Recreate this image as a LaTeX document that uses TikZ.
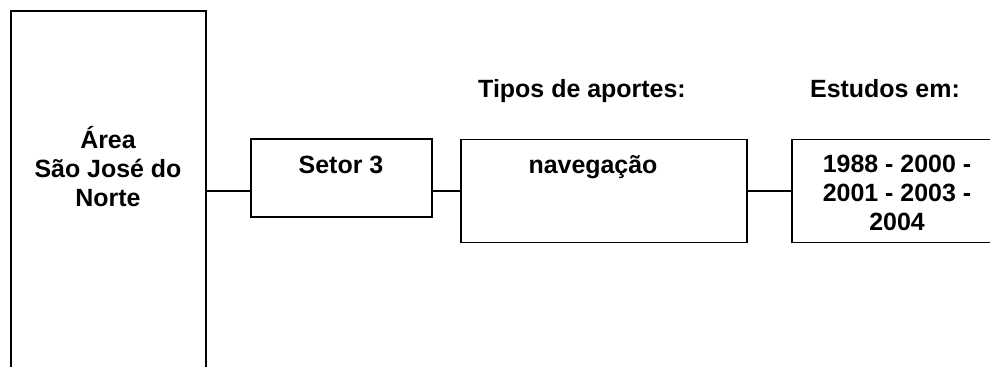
\documentclass[tikz,border=0pt]{standalone}
\usepackage{fontspec}
\setmainfont{Liberation Sans}
\usetikzlibrary{positioning}

\begin{document}
\begin{tikzpicture}[%
  boxStyle/.style={draw,rectangle,line width=0.7pt,inner sep=0pt},%
  textStyle/.style={font=\fontsize{14.2}{16.5}\selectfont\bfseries,align=center,inner sep=0pt},%
  lineStyle/.style={-,line width=0.7pt}
]
%%
%%
\pgfmathsetmacro{\wide}{19.8}
\pgfmathsetmacro{\high}{7.32}
\pgfmathsetmacro{\linky}{-3.82}
\pgfmathsetmacro{\basey}{-3.46}
\pgfmathsetmacro{\heady}{-1.94}
\useasboundingbox (0,0) rectangle (\wide,-\high);
\clip (0,0) rectangle (\wide,-\high);
%%
%% The boxes.
\node[boxStyle,minimum width=3.9cm,minimum height=7.2cm] (area) at (2.17,\linky) {};
\node[boxStyle,minimum width=3.62cm,minimum height=1.56cm] (setor) at (6.83,-3.56) {};
\node[boxStyle,minimum width=5.72cm,minimum height=2.06cm] (aporte) at (12.08,\linky) {};
\node[boxStyle,minimum width=4.2cm,minimum height=2.06cm] (anos) at (17.94,\linky) {};
%%
%% The texts in the boxes.
\node[textStyle] (areaText) at (2.16,-3.34) {Área\\São José do\\Norte};
\node[textStyle,anchor=base] (setorText) at (6.82,\basey) {Setor 3};
\node[textStyle,anchor=base] (aporteText) at (11.86,\basey) {navegação};
\node[textStyle,anchor=north] (anosText) at (17.94,-3.10) {1988 - 2000 -\\2001 - 2003 -\\2004};
%%
%% The headings.
\node[textStyle,anchor=base] (aporteHead) at (11.64,\heady) {Tipos de aportes:};
\node[textStyle,anchor=base] (anosHead) at (17.70,\heady) {Estudos em:};
%%
%% The links.
\draw[lineStyle] (area.east) -- (area.east -| setor.west);
\draw[lineStyle] (setor.east |- aporte.west) -- (aporte.west);
\draw[lineStyle] (aporte.east) -- (anos.west);
\end{tikzpicture}
\end{document}
